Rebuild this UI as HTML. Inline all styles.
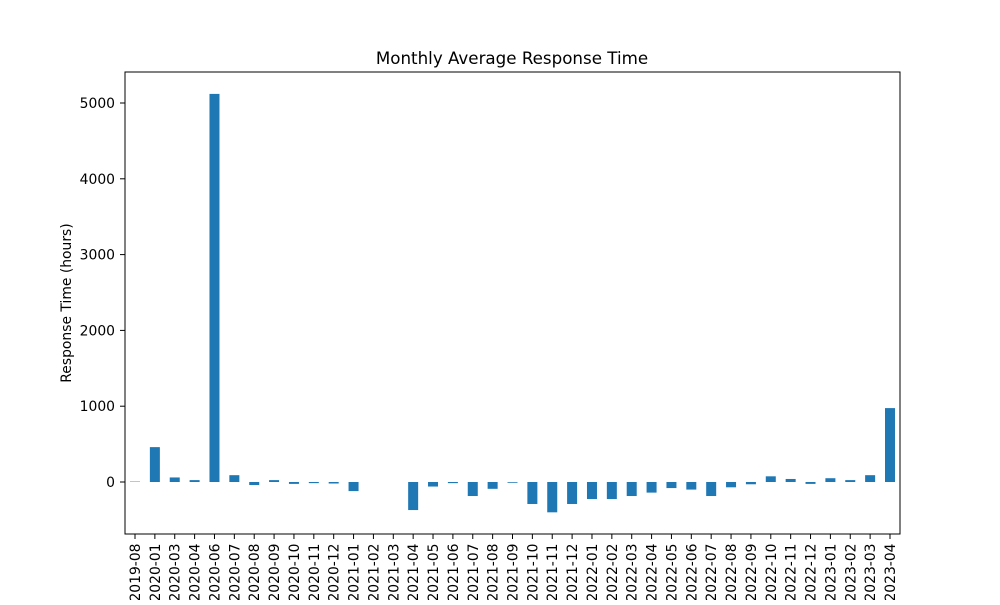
<!DOCTYPE html>
<html><head><meta charset="utf-8"><style>
body{margin:0;background:#fff;font-family:"Liberation Sans","DejaVu Sans",sans-serif}
</style></head><body>
<svg id="chart" width="1000" height="600" xmlns="http://www.w3.org/2000/svg" font-family="DejaVu Sans, Liberation Sans, sans-serif">
<rect width="1000" height="600" fill="#fff"/>
<text x="512" y="64" text-anchor="middle" font-size="16.7">Monthly Average Response Time</text>
<text transform="translate(71,303) rotate(-90)" text-anchor="middle" font-size="13.9">Response Time (hours)</text>
<g id="bars"></g><g id="axes"></g>
<rect x="125" y="72" width="775" height="462" fill="none" stroke="#000" stroke-width="1"/>
</svg>
<script>
const categories=["2019-08","2020-01","2020-03","2020-04","2020-06","2020-07","2020-08","2020-09","2020-10","2020-11","2020-12","2021-01","2021-02","2021-03","2021-04","2021-05","2021-06","2021-07","2021-08","2021-09","2021-10","2021-11","2021-12","2022-01","2022-02","2022-03","2022-04","2022-05","2022-06","2022-07","2022-08","2022-09","2022-10","2022-11","2022-12","2023-01","2023-02","2023-03","2023-04"];
const values=[5,460,60,25,5120,90,-40,25,-25,-15,-20,-120,0,0,-370,-60,-15,-185,-90,-10,-290,-400,-290,-225,-225,-185,-140,-80,-100,-185,-70,-30,75,40,-25,50,25,90,975];
const yTicks=[0,1000,2000,3000,4000,5000];
const NS="http://www.w3.org/2000/svg";
const y=v=>482-v*0.0758;
const x=i=>135+i*(755/(categories.length-1));
const bars=document.getElementById('bars'),axes=document.getElementById('axes');
values.forEach((v,i)=>{
 const r=document.createElementNS(NS,'rect');
 
 
 r.setAttribute('x',x(i)-5);r.setAttribute('width',10);
 r.setAttribute('y',Math.min(y(v),y(0)));r.setAttribute('height',Math.abs(y(v)-y(0)));
 r.setAttribute('fill','#1f77b4');bars.appendChild(r);
 const t=document.createElementNS(NS,'line');
 
 
 t.setAttribute('x1',x(i));t.setAttribute('x2',x(i));t.setAttribute('y1',534);t.setAttribute('y2',539);t.setAttribute('stroke','#000');axes.appendChild(t);
 const l=document.createElementNS(NS,'text');
 
 
 l.setAttribute('transform',`translate(${x(i)+5},543.5) rotate(-90)`);l.setAttribute('text-anchor','end');l.setAttribute('font-size','13.9');l.textContent=categories[i];axes.appendChild(l);
});
yTicks.forEach(v=>{
 const t=document.createElementNS(NS,'line');
 
 
 t.setAttribute('x1',120);t.setAttribute('x2',125);t.setAttribute('y1',y(v));t.setAttribute('y2',y(v));t.setAttribute('stroke','#000');axes.appendChild(t);
 const l=document.createElementNS(NS,'text');
 
 
 l.setAttribute('x',115);l.setAttribute('y',y(v)+5);l.setAttribute('text-anchor','end');l.setAttribute('font-size','13.9');l.textContent=v;axes.appendChild(l);
});
</script>
</body></html>
